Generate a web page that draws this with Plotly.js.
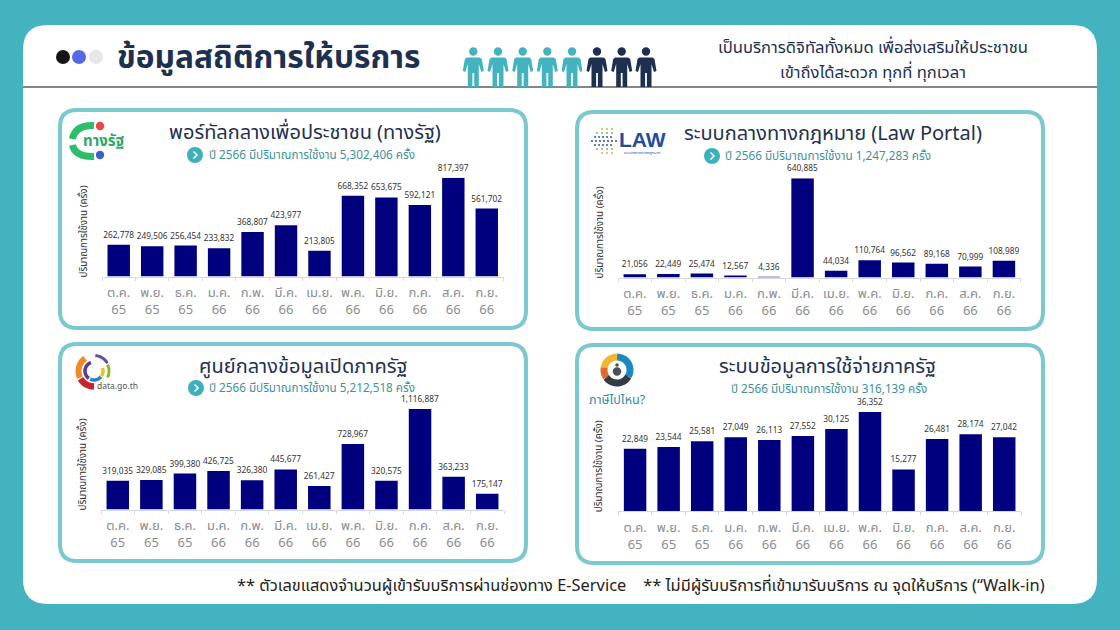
<!DOCTYPE html>
<html><head><meta charset="utf-8">
<script src="https://cdn.plot.ly/plotly-3.0.1.min.js"></script>
<style>html,body{margin:0;padding:0;background:#43B4BF}#c{width:1120px;height:630px}</style>
</head><body><div id="c"></div>
<script>
const months = ["ต.ค.","พ.ย.","ธ.ค.","ม.ค.","ก.พ.","มี.ค.","เม.ย.","พ.ค.","มิ.ย.","ก.ค.","ส.ค.","ก.ย."];
const years = ["65","65","65","66","66","66","66","66","66","66","66","66"];
const tangRat = [262778,249506,256454,233832,368807,423977,213805,668352,653675,592121,817397,561702];
const lawPortal = [21056,22449,25474,12567,4336,640885,44034,110764,96562,89168,70999,108989];
const openData = [319035,329085,399380,426725,326380,445677,261427,728967,320575,1116887,363233,175147];
const spending = [22849,23544,25581,27049,26113,27552,30125,36352,15277,26481,28174,27042];
const panelTitles = ["พอร์ทัลกลางเพื่อประชาชน (ทางรัฐ)","ระบบกลางทางกฎหมาย (Law Portal)","ศูนย์กลางข้อมูลเปิดภาครัฐ","ระบบข้อมูลการใช้จ่ายภาครัฐ"];
const panelSubs = ["ปี 2566 มีปริมาณการใช้งาน 5,302,406 ครั้ง","ปี 2566 มีปริมาณการใช้งาน 1,247,283 ครั้ง","ปี 2566 มีปริมาณการใช้งาน 5,212,518 ครั้ง","ปี 2566 มีปริมาณการใช้งาน 316,139 ครั้ง"];
const yLabel = "ปริมาณการใช้งาน (ครั้ง)";
const mainTitle = "ข้อมูลสถิติการให้บริการ";
const headLine1 = "เป็นบริการดิจิทัลทั้งหมด เพื่อส่งเสริมให้ประชาชน";
const headLine2 = "เข้าถึงได้สะดวก ทุกที่ ทุกเวลา";
const foot = "** ตัวเลขแสดงจำนวนผู้เข้ารับบริการผ่านช่องทาง E-Service    ** ไม่มีผู้รับบริการที่เข้ามารับบริการ ณ จุดให้บริการ (“Walk-in)";

const FONT = '"Noto Sans Thai","Noto Sans","Open Sans",sans-serif';
const W=1120,H=630;
const fx=x=>(x/W).toFixed(5), fy=y=>(1-y/H).toFixed(5);
const P=(x,y)=>fx(x)+','+fy(y);
function rr(x0,y0,x1,y1,r){return `M${P(x0+r,y0)} L${P(x1-r,y0)} Q${P(x1,y0)} ${P(x1,y0+r)} L${P(x1,y1-r)} Q${P(x1,y1)} ${P(x1-r,y1)} L${P(x0+r,y1)} Q${P(x0,y1)} ${P(x0,y1-r)} L${P(x0,y0+r)} Q${P(x0,y0)} ${P(x0+r,y0)} Z`;}
function poly(pts,close){return 'M'+pts.map(p=>P(p[0],p[1])).join(' L')+(close?' Z':'');}
function arc(cx,cy,r,a0,a1){const pts=[];const n=Math.max(4,Math.ceil(Math.abs(a1-a0)/8));for(let i=0;i<=n;i++){const a=(a0+(a1-a0)*i/n)*Math.PI/180;pts.push([cx+r*Math.cos(a),cy+r*Math.sin(a)]);}return pts;}
const shapes=[];
const annotations=[];
function addPath(path,fill,line,w,layer){shapes.push({type:'path',xref:'paper',yref:'paper',path,fillcolor:fill||'rgba(0,0,0,0)',line:{color:line||'rgba(0,0,0,0)',width:w||0},layer:layer||'below'});}
function circle(cx,cy,r,fill,layer){shapes.push({type:'circle',xref:'paper',yref:'paper',x0:(cx-r)/W,x1:(cx+r)/W,y0:1-(cy+r)/H,y1:1-(cy-r)/H,fillcolor:fill,line:{width:0},layer:layer||'below'});}
function txt(x,y,text,size,color,opt){annotations.push(Object.assign({xref:'paper',yref:'paper',x:x/W,y:1-y/H,text,showarrow:false,xanchor:'center',yanchor:'middle',font:{family:FONT,size,color}},opt||{}));}

// page card
addPath(rr(23,25,1097,604,25),'#FFFFFF');
shapes.push({type:'line',xref:'paper',yref:'paper',x0:23/W,x1:1097/W,y0:1-87/H,y1:1-87/H,line:{color:'#5a5f66',width:1.5},layer:'below'});
// header dots
circle(63,57,7,'#161616');circle(79,57,7,'#5468E8');circle(96,57,7,'#E6E7E9');
txt(268,58,'<b>'+mainTitle+'</b>',31.7,'#1D3050');
txt(873,48,headLine1,16.6,'#1D3050');
txt(873,72,headLine2,16.6,'#1D3050');
txt(641,586,foot,16.4,'#222222');
// people icons
[473.3,498,522.7,547.3,572,597,621.7,646].forEach((cx,i)=>{
  const c=i<5?'#43B4BF':'#1D3050';
  circle(cx,51.5,4.2,c);
  addPath(poly([[cx-6.5,57.5],[cx+6.5,57.5],[cx+8.5,59],[cx+10.5,71],[cx+8,72],[cx+5.5,64],[cx+5.5,87],[cx+0.9,87],[cx+0.9,73],[cx-0.9,73],[cx-0.9,87],[cx-5.5,87],[cx-5.5,64],[cx-8,72],[cx-10.5,71],[cx-8.5,59]],true),c);
});
// panels
const panels=[
 {box:[58,108,528,330],plot:[102,503.5,177.7,276.5],data:tangRat,tx:305,ty:133,sx:312,sy:155,cx:195},
 {box:[575,110,1045,331],plot:[618,1020.7,178.3,277.5],data:lawPortal,tx:833,ty:134,sx:828,sy:156,cx:712},
 {box:[58,342,528,563],plot:[101,504,409,509.5],data:openData,tx:303,ty:367,sx:312,sy:388,cx:196},
 {box:[575,343,1045,565],plot:[618.3,1021,412,511],data:spending,tx:827,ty:367,sx:829,sy:389,cx:null}
];
const traces=[];const layout={};
const cats=months.map((m,i)=>m+'<br>'+years[i]);
panels.forEach((p,i)=>{
  const [b0,b1,b2,b3]=p.box;
  addPath(rr(b0+2,b1+2,b2-2,b3-2,17),'#FFFFFF','#7CC8CF',4);
  txt(p.tx,p.ty,panelTitles[i],20,'#1D3050');
  txt(p.sx,p.sy,panelSubs[i],11.7,'#3F9199');
  if(p.cx!==null){circle(p.cx,p.sy,8,'#3CB0BD');addPath(poly([[p.cx-1.5,p.sy-3.5],[p.cx+2,p.sy],[p.cx-1.5,p.sy+3.5]]),null,'#FFFFFF',1.5);}
  txt(p.plot[0]-19,p.plot[3]-45,yLabel,9.8,'#333333',{textangle:-90});
  const n=i?String(i+1):'';
  traces.push({type:'bar',x:cats,y:p.data,xaxis:'x'+n,yaxis:'y'+n,marker:{color:'#00007F',line:{width:0}},width:0.67,
    text:p.data.map(v=>v.toLocaleString('en-US')),textposition:'outside',cliponaxis:false,constraintext:'none',
    textfont:{family:FONT,size:8.3,color:'#333333'},hoverinfo:'x+y'});
  layout['xaxis'+n]={domain:[p.plot[0]/W,p.plot[1]/W],anchor:'y'+n,type:'category',categoryorder:'array',categoryarray:cats,
    showgrid:false,showline:true,linecolor:'#D5D8DC',linewidth:1,ticks:'outside',tickson:'boundaries',ticklen:3,tickcolor:'#D5D8DC',tickwidth:1,
    tickangle:0,ticklabelstandoff:4,tickfont:{family:FONT,size:13,color:'#8A8D90'},fixedrange:true};
  layout['yaxis'+n]={domain:[1-p.plot[3]/H,1-p.plot[2]/H],anchor:'x'+n,range:[0,Math.max(...p.data)],visible:false,fixedrange:true};
});
// logo: tang rat
addPath(`M${P(94,125.5)} Q${P(75,125)} ${P(72.5,139)}`,null,'#2EBD6B',7);
addPath(`M${P(72.5,145)} Q${P(75,157)} ${P(94,156.5)}`,null,'#2EBD6B',7);
circle(100,126,4.2,'#EE4444');circle(100,155,4.2,'#3A62C8');
txt(104,142,'<b>ทางรัฐ</b>',15,'#2EA866');
// logo: law
[[129,[603,608,613],'#C9B84A'],[133,[598,603,608,613],'#7FB069'],[137,[596,600,604,608,612],'#2C5BA8'],[141,[593,597,601,605,609,613,617],'#1F4E9C'],[145,[596,600,604,608,612],'#2C5BA8'],[149,[598,603,608,613],'#7FB069'],[153,[603,608,613],'#C9B84A']].forEach(r=>r[1].forEach(x=>circle(x-1,r[0],1,r[2])));
txt(642,139,'<b>LAW</b>',21,'#1F4E9C',{font:{family:'"Liberation Sans",sans-serif',size:21,color:'#1F4E9C'}});
txt(642,153,'ระบบกลางทางกฎหมาย',4,'#1F4E9C');
// logo: data.go.th
[[15.5,'#F08A24',155,235,6],[15.5,'#C8232C',90,150,6.5],[15,'#8AB92D',-25,25,3],[15.5,'#6D4C9F',-85,-30,3],[9,'#2F80C8',40,115,3.5],[9,'#E8C51C',-20,35,3.5],[9,'#5B3A93',125,250,3.5]].forEach(a=>{
  addPath(poly(arc(94,371,a[0],a[2],a[3])),null,a[1],a[4]);
});
txt(117,386,'data.go.th',8.5,'#555555');
// logo: tax
[['#1E88C0',-90,30],['#F2B632',-170,-90],['#E2692B',-215,-170],['#333B44',30,145]].forEach(s=>{addPath(poly(arc(617,370,13,s[1],s[2])),null,s[0],7);});
circle(617,370,9,'#FFFFFF');circle(617,371.5,4.2,'#4A4F55');circle(617,365,1.8,'#4A4F55');
txt(617,400,'ภาษีไปไหน?',12.5,'#2A8FA5');
Object.assign(layout,{width:W,height:H,margin:{l:0,r:0,t:0,b:0},paper_bgcolor:'#43B4BF',plot_bgcolor:'rgba(0,0,0,0)',showlegend:false,bargap:0.33,shapes,annotations,font:{family:FONT}});
Plotly.newPlot('c',traces,layout,{displayModeBar:false,staticPlot:true});
</script></body></html>
